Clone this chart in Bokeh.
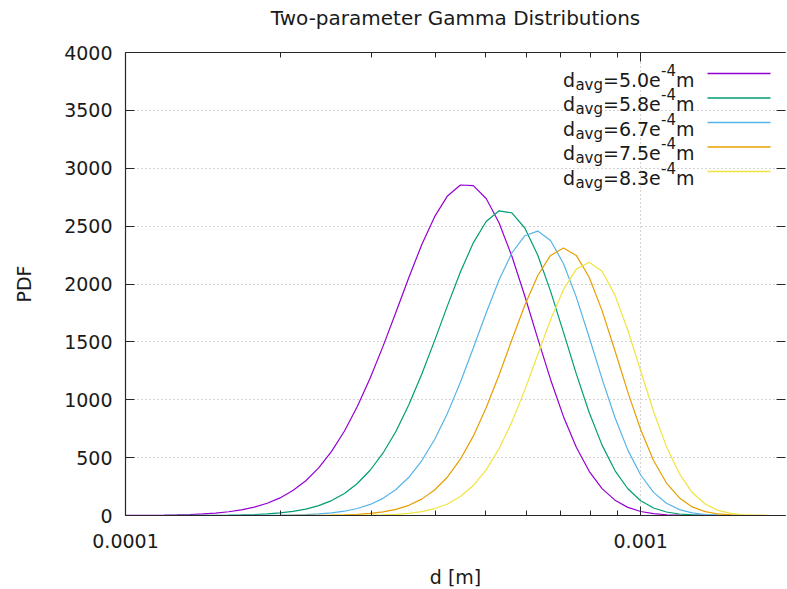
from bokeh.plotting import figure
from bokeh.models import Range1d, FixedTicker, Label, BoxAnnotation, LinearAxis, LogAxis, Title
from bokeh.embed import file_html
from bokeh.resources import INLINE

# ---------------- data ----------------
d = [1.000e-4, 1.059e-4, 1.122e-4, 1.189e-4, 1.259e-4, 1.334e-4, 1.413e-4, 1.496e-4,
     1.585e-4, 1.679e-4, 1.778e-4, 1.884e-4, 1.995e-4, 2.113e-4, 2.239e-4, 2.371e-4,
     2.512e-4, 2.661e-4, 2.818e-4, 2.985e-4, 3.162e-4, 3.350e-4, 3.548e-4, 3.758e-4,
     3.981e-4, 4.217e-4, 4.467e-4, 4.732e-4, 5.012e-4, 5.309e-4, 5.623e-4, 5.957e-4,
     6.310e-4, 6.683e-4, 7.079e-4, 7.499e-4, 7.943e-4, 8.414e-4, 8.913e-4, 9.441e-4,
     1.000e-3, 1.059e-3, 1.122e-3, 1.189e-3, 1.259e-3, 1.334e-3, 1.413e-3, 1.496e-3,
     1.585e-3, 1.679e-3, 1.778e-3, 1.884e-3, 1.995e-3]

pdf_50 = [0.83, 1.36, 2.20, 3.53, 5.61, 8.84, 13.8, 21.2, 32.3, 48.6,
          72.1, 105.5, 152.0, 215.5, 300.6, 411.8, 553.7, 729.6, 941.5, 1187.8,
          1463.3, 1758.1, 2056.8, 2339.1, 2581.7, 2760.9, 2855.1, 2849.4, 2738.5, 2529.3,
          2239.3, 1895.9, 1530.8, 1175.5, 856.0, 589.2, 382.0, 232.6, 132.4, 70.2,
          34.6, 15.7, 6.56, 2.50, 0.87, 0.27, 0.08, 0.02, 0.0, 0.0,
          0.0, 0.0, 0.0]
pdf_58 = [0.03, 0.06, 0.10, 0.18, 0.33, 0.58, 1.01, 1.75, 3.00, 5.06,
          8.42, 13.8, 22.3, 35.5, 55.6, 85.5, 129.0, 190.7, 276.1, 390.9,
          540.3, 728.4, 956.1, 1220.0, 1510.8, 1812.9, 2103.4, 2355.4, 2540.0, 2632.2,
          2614.7, 2483.8, 2250.2, 1938.8, 1584.1, 1223.3, 890.1, 607.9, 388.3, 231.1,
          127.5, 65.0, 30.5, 13.1, 5.09, 1.80, 0.57, 0.16, 0.04, 0.01,
          0.0, 0.0, 0.0]
pdf_67 = [0.0, 0.0, 0.0, 0.01, 0.01, 0.03, 0.06, 0.11, 0.21, 0.39,
          0.73, 1.34, 2.44, 4.36, 7.65, 13.2, 22.3, 37.0, 60.2, 95.6,
          148.2, 224.2, 330.1, 472.7, 656.8, 884.3, 1151.2, 1446.4, 1750.0, 2034.8,
          2267.9, 2417.3, 2457.2, 2375.5, 2177.7, 1886.9, 1540.4, 1180.5, 846.1, 564.9,
          349.8, 200.1, 105.2, 50.6, 22.1, 8.76, 3.12, 0.99, 0.28, 0.07,
          0.02, 0.0, 0.0]
pdf_75 = [0.0, 0.0, 0.0, 0.0, 0.0, 0.0, 0.0, 0.01, 0.01, 0.02,
          0.05, 0.10, 0.21, 0.41, 0.81, 1.57, 2.98, 5.55, 10.1, 18.0,
          31.4, 53.3, 88.0, 141.4, 220.4, 333.0, 486.4, 685.7, 930.9, 1214.5,
          1518.8, 1816.3, 2071.6, 2247.1, 2311.3, 2247.1, 2058.2, 1769.8, 1423.3, 1066.1,
          740.9, 475.5, 280.5, 151.4, 74.3, 33.0, 13.2, 4.70, 1.49, 0.42,
          0.10, 0.02, 0.0]
pdf_83 = [0.0, 0.0, 0.0, 0.0, 0.0, 0.0, 0.0, 0.0, 0.0, 0.0,
          0.0, 0.01, 0.01, 0.03, 0.07, 0.15, 0.32, 0.66, 1.35, 2.71,
          5.29, 10.1, 18.7, 33.6, 58.8, 99.7, 163.5, 258.6, 393.8, 576.5,
          808.9, 1085.4, 1389.0, 1690.5, 1951.0, 2128.3, 2187.2, 2110.2, 1904.1, 1600.4,
          1247.9, 898.6, 594.9, 360.1, 198.3, 98.8, 44.3, 17.7, 6.31, 1.98,
          0.54, 0.13, 0.03]

series = [pdf_50, pdf_58, pdf_67, pdf_75, pdf_83]
legend_mantissa = ["5.0", "5.8", "6.7", "7.5", "8.3"]
legend_exponent = "-4"
colors = ["#9400d3", "#009e73", "#56b4e9", "#e69f00", "#f0e442"]
title_text = "Two-parameter Gamma Distributions"

x_ticks = [1e-4, 1e-3]
x_tick_labels = ["0.0001", "0.001"]
x_minor_ticks = [2e-4, 3e-4, 4e-4, 5e-4, 6e-4, 7e-4, 8e-4, 9e-4]
y_ticks = [0, 500, 1000, 1500, 2000, 2500, 3000, 3500, 4000]

FONT = "DejaVu Sans"
TXT = "#1a1a1a"
AX = "#262626"

p = figure(x_axis_type="log", x_range=Range1d(1e-4, 1.91e-3), y_range=Range1d(0, 4000),
           frame_width=660, frame_height=463,
           min_border_left=125, min_border_right=2, min_border_top=52, min_border_bottom=74,
           output_backend="svg", toolbar_location=None)
p.outline_line_color = None
p.background_fill_color = "white"
p.border_fill_color = "white"
p.title.text = ""
p.title.visible = False

# grids
p.ygrid.ticker = FixedTicker(ticks=y_ticks)
p.xgrid.ticker = FixedTicker(ticks=x_ticks)
for g in (p.xgrid[0], p.ygrid[0]):
    g.grid_line_color = "#a8a8a8"
    g.grid_line_dash = "1 3"
    g.grid_line_width = 1

# bottom axis
xa = p.xaxis[0]
xa.ticker = FixedTicker(ticks=x_ticks, minor_ticks=x_minor_ticks)
xa.major_label_overrides = dict(zip(x_ticks, x_tick_labels))
xa.axis_label = "d [m]"
# left axis
ya = p.yaxis[0]
ya.ticker = FixedTicker(ticks=y_ticks)
ya.axis_label = "PDF"

for ax in (xa, ya):
    ax.axis_line_color = AX
    ax.axis_line_width = 1.2
    ax.major_tick_line_color = AX
    ax.minor_tick_line_color = AX
    ax.major_tick_in = 9
    ax.major_tick_out = 0
    ax.minor_tick_in = 5
    ax.minor_tick_out = 0
    ax.major_label_text_font = FONT
    ax.major_label_text_font_size = "19px"
    ax.major_label_text_color = TXT
    ax.axis_label_text_font = FONT
    ax.axis_label_text_font_size = "19px"
    ax.axis_label_text_font_style = "normal"
    ax.axis_label_text_color = TXT
xa.major_label_standoff = 18
xa.axis_label_standoff = 15
ya.major_label_standoff = 13
ya.axis_label_standoff = 26

# mirrored top and right ticks (gnuplot style)
top = LogAxis(ticker=FixedTicker(ticks=x_ticks, minor_ticks=x_minor_ticks))
top.major_label_overrides = {t: "" for t in x_ticks}
right = LinearAxis(ticker=FixedTicker(ticks=y_ticks))
right.major_label_overrides = {t: "" for t in y_ticks}
for ax in (top, right):
    ax.major_label_text_font_size = "1px"
    ax.major_label_standoff = 0
    ax.major_tick_in = 9
    ax.major_tick_out = 0
    ax.minor_tick_in = 5
    ax.minor_tick_out = 0
    ax.major_tick_line_color = AX
    ax.minor_tick_line_color = AX
top.axis_line_color = AX
top.axis_line_width = 1.2
right.axis_line_color = None
right.minor_tick_line_color = None
p.add_layout(top, "above")
p.add_layout(right, "right")

# title, lifted above the frame by an empty spacer title
spacer = Title(text=" ", text_font_size="1px", standoff=20)
main_title = Title(text=title_text, text_font=FONT, text_font_size="20px",
                   text_font_style="normal", text_color=TXT, align="center",
                   offset=5, standoff=0)
p.add_layout(spacer, "above")
p.add_layout(main_title, "above")

# curves
for ys, c in zip(series, colors):
    p.line(d, ys, line_color=c, line_width=1.2)

# legend (gnuplot-like, text left of the sample line)
for i, (m, c) in enumerate(zip(legend_mantissa, colors)):
    ly = 442 - 24.5 * i
    p.add_layout(BoxAnnotation(left=582, right=645, top=ly, bottom=ly,
                               left_units="screen", right_units="screen",
                               top_units="screen", bottom_units="screen",
                               fill_alpha=0, line_color=c, line_alpha=1.0, line_width=1.3))
    top_y = ly + 5
    pieces = [("d", 449.5, top_y, "19px"),
              ("avg", 477.5, top_y - 7, "15px"),
              ("=" + m + "e", 535.3, top_y, "19px"),
              (legend_exponent, 550.5, top_y + 5, "15px"),
              ("m", 569.0, top_y, "19px")]
    for txt, x, y, fs in pieces:
        p.add_layout(Label(x=x, y=y, x_units="screen", y_units="screen", text=txt,
                           text_align="right", text_baseline="top",
                           text_font=FONT, text_font_size=fs, text_color=TXT))

open("out.html", "w").write(file_html(p, INLINE))
